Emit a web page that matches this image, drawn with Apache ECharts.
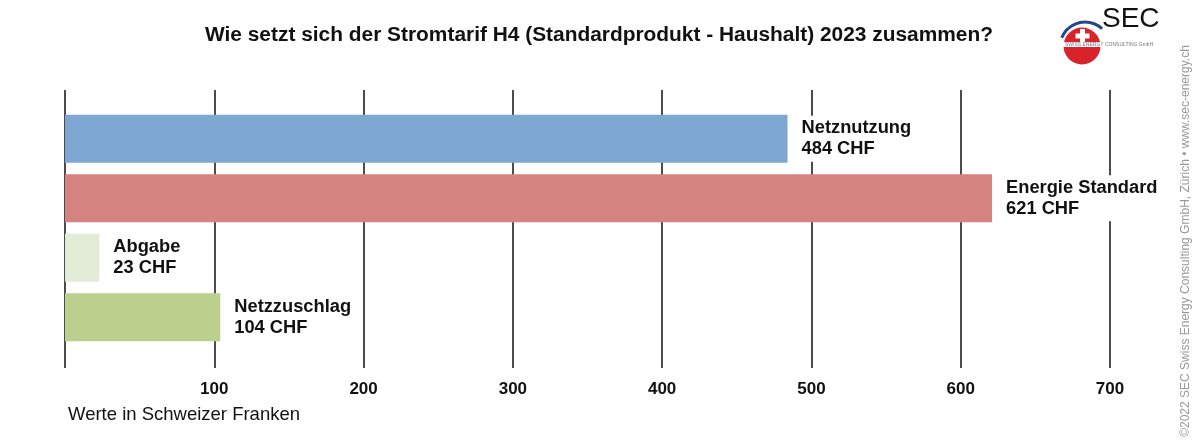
<!DOCTYPE html>
<html><head><meta charset="utf-8">
<script src="https://cdn.jsdelivr.net/npm/echarts@6/dist/echarts.min.js"></script>
<style>html,body{margin:0;padding:0;background:#fff}#c{width:1200px;height:447px}</style>
</head><body><div id="c"></div>
<script>
const categories = ['Netznutzung', 'Energie Standard', 'Abgabe', 'Netzzuschlag'];
const values = [484, 621, 23, 104];
const barColors = ['#7FA7D3', '#D48380', '#E3ECD6', '#BBD08C'];
const tickValues = [0, 100, 200, 300, 400, 500, 600, 700];

const FONT = '"Liberation Sans", Arial, Helvetica, sans-serif';
const chart = echarts.init(document.getElementById('c'), null, {renderer: 'canvas'});
chart.setOption({
  animation: false,
  backgroundColor: '#fff',
  title: {
    text: 'Wie setzt sich der Stromtarif H4 (Standardprodukt - Haushalt) 2023 zusammen?',
    left: 594, top: 20, textAlign: 'center',
    textStyle: {fontFamily: FONT, fontWeight: 'bold', fontSize: 20.9, color: '#111'}
  },
  grid: [
    {left: 65, right: 90, top: 90, bottom: 79},
    {left: 65, right: 90, top: 109, bottom: 100}
  ],
  xAxis: [
    {gridIndex: 0, type: 'value', min: tickValues[0], max: tickValues[tickValues.length-1], interval: 100,
     axisLine: {show: false}, axisTick: {show: false},
     splitLine: {show: true, lineStyle: {color: '#111', width: 1.5}},
     axisLabel: {margin: 13, fontFamily: FONT, fontWeight: 'bold', fontSize: 17, color: '#111',
       formatter: v => v === 0 ? '' : String(v)}},
    {gridIndex: 1, type: 'value', min: tickValues[0], max: tickValues[tickValues.length-1], show: false}
  ],
  yAxis: [
    {gridIndex: 0, type: 'value', show: false},
    {gridIndex: 1, type: 'category', inverse: true, data: categories, show: false}
  ],
  series: [{
    type: 'bar', xAxisIndex: 1, yAxisIndex: 1, barWidth: 48,
    data: values.map((v, i) => ({value: v, itemStyle: {color: barColors[i]}})),
    label: {show: true, position: 'right', distance: 14,
      formatter: p => p.name + '\n' + p.value + ' CHF',
      backgroundColor: '#fff', padding: [2, 0, 2, 0],
      fontFamily: FONT, fontWeight: 'bold', fontSize: 18.3, lineHeight: 21, color: '#111'}
  }],
  graphic: [
    {type: 'text', x: 68, y: 415,
     style: {text: 'Werte in Schweizer Franken', font: '18.5px ' + FONT, fill: '#111', verticalAlign: 'middle'}},
    {type: 'text', x: 1186, y: 241, rotation: Math.PI / 2,
     style: {text: '©2022 SEC Swiss Energy Consulting GmbH, Zürich • www.sec-energy.ch',
       font: '12px ' + FONT, fill: '#999', align: 'center', verticalAlign: 'middle'}},
    {type: 'arc', shape: {cx: 1085, cy: 47, r: 25, startAngle: Math.PI * 1.12, endAngle: Math.PI * 1.74},
     style: {stroke: '#24488a', lineWidth: 3, fill: null}},
    {type: 'circle', shape: {cx: 1082, cy: 46, r: 18.5}, style: {fill: '#D8232A'}},
    {type: 'rect', shape: {x: 1080, y: 29, width: 5, height: 14}, style: {fill: '#fff'}},
    {type: 'rect', shape: {x: 1075.5, y: 33.5, width: 14, height: 5}, style: {fill: '#fff'}},
    {type: 'rect', shape: {x: 1063, y: 42, width: 86, height: 5}, style: {fill: '#fff'}},
    {type: 'text', x: 1065, y: 44.5, style: {text: 'SWISS ENERGY CONSULTING GmbH', font: '5px ' + FONT, fill: '#777', verticalAlign: 'middle'}},
    {type: 'text', x: 1102, y: 19, style: {text: 'SEC', font: '28px ' + FONT, fill: '#111', verticalAlign: 'middle'}}
  ]
});
</script></body></html>
